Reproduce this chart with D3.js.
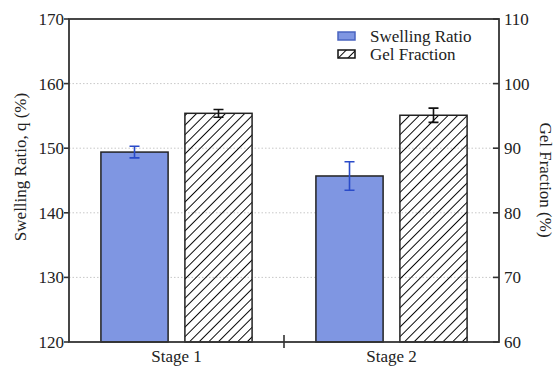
<!DOCTYPE html>
<html>
<head>
<meta charset="utf-8">
<script src="https://cdn.jsdelivr.net/npm/d3@7"></script>
<style>
  body { margin: 0; background: #fff; }
  svg { display: block; }
</style>
</head>
<body>
<svg id="chart" width="555" height="369"></svg>
<script>
'use strict';

// values
var stages = ['Stage 1', 'Stage 2'],
    swelling = [149.4, 145.7],
    swellingErr = [0.9, 2.2],
    gelFraction = [95.4, 95.1],
    gelFractionErr = [0.6, 1.1],
    leftTicks = [120, 130, 140, 150, 160, 170],
    rightTicks = [60, 70, 80, 90, 100, 110],
    seriesNames = ['Swelling Ratio', 'Gel Fraction'];

var svg = d3.select('#chart'),
    plotLeft = 69,
    plotRight = 499,
    plotTop = 19,
    plotBottom = 342,
    blue = '#7f96e2',
    edge = '#222',
    serif = '"Liberation Serif"';

var x = d3.scaleBand().domain(stages).range([plotLeft, plotRight]),
    inner = d3.scaleBand().domain(seriesNames).range([0, x.bandwidth()])
      .paddingInner(0.2).paddingOuter(0.38),
    yL = d3.scaleLinear().domain([120, 170]).range([plotBottom, plotTop]),
    yR = d3.scaleLinear().domain([60, 110]).range([plotBottom, plotTop]);

// hatch pattern
var defs = svg.append('defs');
defs.append('pattern')
    .attr('id', 'hatch')
    .attr('patternUnits', 'userSpaceOnUse')
    .attr('width', 6.8)
    .attr('height', 6.8)
    .attr('patternTransform', 'rotate(45)')
  .append('line')
    .attr('x1', 0).attr('y1', 0)
    .attr('x2', 0).attr('y2', 6.8)
    .attr('stroke', '#000')
    .attr('stroke-width', 1.9);

// gridlines
svg.append('g')
  .selectAll('line')
  .data(leftTicks.slice(1, -1))
  .enter().append('line')
    .attr('x1', plotLeft).attr('x2', plotRight)
    .attr('y1', function (d) { return yL(d); })
    .attr('y2', function (d) { return yL(d); })
    .attr('stroke', '#c8c8c8')
    .attr('stroke-width', 1)
    .attr('stroke-dasharray', '1.5,2');

// bars
var groups = svg.append('g')
  .selectAll('g')
  .data(stages)
  .enter().append('g')
    .attr('transform', function (d) { return 'translate(' + x(d) + ',0)'; });

groups.append('rect')
    .attr('x', inner('Swelling Ratio'))
    .attr('width', inner.bandwidth())
    .attr('y', function (d, i) { return yL(swelling[i]); })
    .attr('height', function (d, i) { return plotBottom - yL(swelling[i]); })
    .attr('fill', blue)
    .attr('stroke', edge)
    .attr('stroke-width', 1.5);

groups.append('rect')
    .attr('x', inner('Gel Fraction'))
    .attr('width', inner.bandwidth())
    .attr('y', function (d, i) { return yR(gelFraction[i]); })
    .attr('height', function (d, i) { return plotBottom - yR(gelFraction[i]); })
    .attr('fill', 'url(#hatch)')
    .attr('stroke', edge)
    .attr('stroke-width', 1.5);

// error bars
function errorBar(g, cx, y0, y1, color) {
  var w = 5;
  g.append('path')
    .attr('d',
        'M ' + (cx - w) + ' ' + y0 + ' L ' + (cx + w) + ' ' + y0 +
        'M ' + (cx - w) + ' ' + y1 + ' L ' + (cx + w) + ' ' + y1 +
        'M ' + cx + ' ' + y0 + ' L ' + cx + ' ' + y1)
    .attr('fill', 'none')
    .attr('stroke', color)
    .attr('stroke-width', 1.6);
}

groups.each(function (d, i) {
  var g = d3.select(this),
      cs = inner('Swelling Ratio') + inner.bandwidth() / 2,
      cg = inner('Gel Fraction') + inner.bandwidth() / 2;
  errorBar(g, cs, yL(swelling[i] + swellingErr[i]), yL(swelling[i] - swellingErr[i]), '#2a4bc9');
  errorBar(g, cg, yR(gelFraction[i] + gelFractionErr[i]), yR(gelFraction[i] - gelFractionErr[i]), '#111');
});

// frame
svg.append('rect')
    .attr('x', plotLeft).attr('y', plotTop)
    .attr('width', plotRight - plotLeft).attr('height', plotBottom - plotTop)
    .attr('fill', 'none')
    .attr('stroke', '#333')
    .attr('stroke-width', 1.8);

// left axis
var axL = svg.append('g');
axL.selectAll('line')
  .data(leftTicks)
  .enter().append('line')
    .attr('x1', plotLeft - 5).attr('x2', plotLeft)
    .attr('y1', function (d) { return yL(d); })
    .attr('y2', function (d) { return yL(d); })
    .attr('stroke', '#333').attr('stroke-width', 1.6);
axL.selectAll('text')
  .data(leftTicks)
  .enter().append('text')
    .attr('x', plotLeft - 5)
    .attr('y', function (d) { return yL(d); })
    .attr('dy', '0.35em')
    .attr('text-anchor', 'end')
    .style('font-family', serif)
    .style('font-size', '17px')
    .attr('fill', '#222')
    .text(function (d) { return d; });

// right axis
var axR = svg.append('g');
axR.selectAll('line')
  .data(rightTicks)
  .enter().append('line')
    .attr('x1', plotRight - 6).attr('x2', plotRight)
    .attr('y1', function (d) { return yR(d); })
    .attr('y2', function (d) { return yR(d); })
    .attr('stroke', '#333').attr('stroke-width', 1.6);
axR.selectAll('text')
  .data(rightTicks)
  .enter().append('text')
    .attr('x', plotRight + 5)
    .attr('y', function (d) { return yR(d); })
    .attr('dy', '0.35em')
    .attr('text-anchor', 'start')
    .style('font-family', serif)
    .style('font-size', '17px')
    .attr('fill', '#222')
    .text(function (d) { return d; });

// bottom axis: separator tick between stages, labels centred in bands
svg.append('line')
    .attr('x1', x('Stage 2')).attr('x2', x('Stage 2'))
    .attr('y1', plotBottom - 7).attr('y2', plotBottom + 6)
    .attr('stroke', '#333').attr('stroke-width', 1.6);

svg.append('g')
  .selectAll('text')
  .data(stages)
  .enter().append('text')
    .attr('x', function (d) { return x(d) + x.bandwidth() / 2; })
    .attr('y', 362)
    .attr('text-anchor', 'middle')
    .style('font-family', serif)
    .style('font-size', '17px')
    .attr('fill', '#222')
    .text(function (d) { return d; });

// axis titles
svg.append('text')
    .attr('transform', 'translate(26,167) rotate(-90)')
    .attr('text-anchor', 'middle')
    .style('font-family', serif)
    .style('font-size', '17px')
    .attr('fill', '#222')
    .text('Swelling Ratio, q (%)');

svg.append('text')
    .attr('transform', 'translate(540,180) rotate(90)')
    .attr('text-anchor', 'middle')
    .style('font-family', serif)
    .style('font-size', '17px')
    .attr('fill', '#222')
    .text('Gel Fraction (%)');

// legend
var legend = svg.append('g').attr('transform', 'translate(338,30)');
var item = legend.selectAll('g')
  .data(seriesNames)
  .enter().append('g')
    .attr('transform', function (d, i) { return 'translate(0,' + (i * 18) + ')'; });

item.append('rect')
    .attr('width', 17).attr('height', 8)
    .attr('y', 2)
    .attr('fill', function (d, i) { return i === 0 ? blue : 'url(#hatch)'; })
    .attr('stroke', function (d, i) { return i === 0 ? '#4a64c0' : '#111'; })
    .attr('stroke-width', 1.5);

item.append('text')
    .attr('x', 32)
    .attr('y', 6)
    .attr('dy', '0.35em')
    .style('font-family', serif)
    .style('font-size', '17px')
    .attr('fill', '#222')
    .text(function (d) { return d; });
</script>
</body>
</html>
